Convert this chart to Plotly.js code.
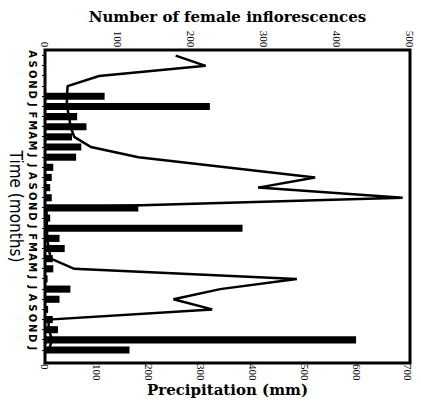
<!DOCTYPE html>
<html>
<head>
<meta charset="utf-8">
<script src="https://cdn.plot.ly/plotly-3.0.1.min.js"></script>
<style>html,body{margin:0;padding:0;background:#fff;}#chart{width:421px;height:407px;}</style>
</head>
<body>
<div id="chart"></div>
<script>
// Months from August (year 1) to January (year 3)
const months = ['A','S','O','N','D','J','F','M','A','M','J','J','A','S','O','N','D','J','F','M','A','M','J','J','A','S','O','N','D','J'];
// Monthly precipitation (mm) - bars, bottom axis
const precipitation = [0,0,0,0,115,318,62,80,52,70,60,16,13,10,13,180,10,381,28,38,15,16,5,49,28,6,15,25,600,163];
// Number of female inflorescences - line, top axis
const inflorescences = [179,220,74,31,30,30,33,35,40,63,128,249,370,292,490,2,2,3,3,5,8,40,345,240,176,229,5,5,10,5];
const monthIndex = months.map((m, i) => i);
const precipTicks = [0,100,200,300,400,500,600,700];
const inflTicks = [0,100,200,300,400,500];

const serif = 'Liberation Serif, Times New Roman, serif';
const titleFont = {family: 'DejaVu Serif, serif', size: 15, color: '#000', weight: 'bold'};

const traces = [
  {
    type: 'bar', orientation: 'h',
    x: precipitation, y: monthIndex,
    xaxis: 'x', yaxis: 'y',
    marker: {color: '#000', line: {width: 0}},
    width: 0.7,
    hoverinfo: 'skip'
  },
  {
    type: 'scatter', mode: 'lines',
    x: inflorescences, y: monthIndex,
    xaxis: 'x2', yaxis: 'y',
    line: {color: '#000', width: 2.5},
    hoverinfo: 'skip'
  }
];

const layout = {
  width: 421, height: 407,
  margin: {l: 45, r: 11, t: 50, b: 44},
  paper_bgcolor: '#fff', plot_bgcolor: '#fff',
  showlegend: false,
  bargap: 0.3,
  xaxis: {
    range: [0, 704],
    tickvals: precipTicks, ticktext: precipTicks.map(String),
    tickangle: 90,
    tickfont: {family: serif, size: 11, color: '#000'},
    ticks: '', showgrid: false, zeroline: false, showline: false,
    title: {text: 'Precipitation (mm)', font: titleFont, standoff: 2}
  },
  xaxis2: {
    overlaying: 'x', side: 'top', anchor: 'y',
    range: [0, 500],
    tickvals: inflTicks, ticktext: inflTicks.map(String),
    tickangle: 90,
    tickfont: {family: serif, size: 11, color: '#000'},
    ticks: '', showgrid: false, zeroline: false, showline: false,
    title: {text: 'Number of female inflorescences', font: titleFont, standoff: 4}
  },
  yaxis: {
    range: [30.28, -0.56],
    tickvals: monthIndex, ticktext: months,
    tickangle: 90,
    tickfont: {family: 'Liberation Sans Narrow, DejaVu Sans Condensed, sans-serif', size: 11, color: '#000', weight: 'bold'},
    ticks: 'outside', ticklen: 2, tickwidth: 1, tickcolor: '#000',
    showgrid: false, zeroline: false, showline: false
  },
  shapes: [{
    type: 'rect', xref: 'paper', yref: 'paper', x0: 0, x1: 1, y0: 0, y1: 1,
    line: {color: '#000', width: 3}, fillcolor: 'rgba(0,0,0,0)', layer: 'above'
  }],
  annotations: [{
    text: 'Time (months)', xref: 'paper', yref: 'paper',
    x: -0.077, y: 0.5, xanchor: 'center', yanchor: 'middle',
    textangle: 90, showarrow: false,
    font: {family: 'DejaVu Sans Condensed, Liberation Sans Narrow, sans-serif', size: 17, color: '#000'}
  }]
};

Plotly.newPlot('chart', traces, layout, {staticPlot: true, displayModeBar: false});
</script>
</body>
</html>
